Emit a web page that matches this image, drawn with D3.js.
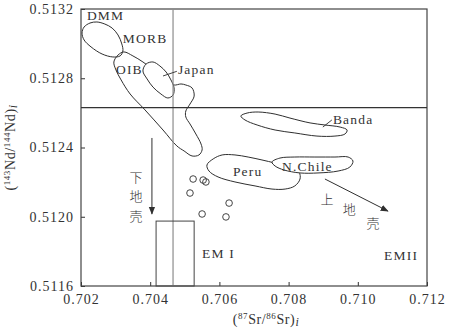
<!DOCTYPE html>
<html>
<head>
<meta charset="utf-8">
<script src="https://cdn.jsdelivr.net/npm/d3@7"></script>
<style>
  body { margin: 0; background: #fff; }
  text { font-family: "Liberation Serif", "Times New Roman", serif; fill: #333; }
  .cjk { font-family: "Noto Sans CJK SC", sans-serif; }
</style>
</head>
<body>
<svg id="chart" width="454" height="330"></svg>
<script>
const SVG_WIDTH = 454;
const SVG_HEIGHT = 330;
const MARGIN = { left: 81, right: 27, top: 9, bottom: 44 };

// axes
const X_DOMAIN = [0.702, 0.712];
const Y_DOMAIN = [0.5116, 0.5132];
const X_TICKS = [0.702, 0.704, 0.706, 0.708, 0.71, 0.712];
const Y_TICKS = [0.5116, 0.512, 0.5124, 0.5128, 0.5132];

// reference lines (Sr, Nd of bulk earth)
const REF_SR = 0.70466;
const REF_ND = 0.51263;

// field outlines, [87Sr/86Sr, 143Nd/144Nd]
const DMM = [[0.70203, 0.513061], [0.70209, 0.513096], [0.70226, 0.513119], [0.70246, 0.513125],
  [0.70269, 0.513113], [0.7029, 0.51309], [0.70307, 0.51305], [0.70318, 0.512998],
  [0.70321, 0.512957], [0.70313, 0.512929], [0.70292, 0.512923], [0.70261, 0.51294],
  [0.70229, 0.512981], [0.70209, 0.513021]];
const OIB_ARC = [[0.70295, 0.512894], [0.70307, 0.512934], [0.70324, 0.512952], [0.7035, 0.512929],
  [0.70379, 0.512894], [0.70417, 0.512836], [0.70451, 0.512784], [0.70469, 0.512761],
  [0.70489, 0.512767], [0.70503, 0.512761], [0.70521, 0.512744], [0.70527, 0.512697],
  [0.70515, 0.512651], [0.70503, 0.512611], [0.70503, 0.512576], [0.70515, 0.512536],
  [0.70532, 0.512478], [0.70547, 0.51242], [0.7055, 0.512386], [0.70541, 0.512357],
  [0.70521, 0.512351], [0.70498, 0.51238], [0.70477, 0.512409], [0.70437, 0.512501],
  [0.70385, 0.512617], [0.70342, 0.512709], [0.70316, 0.51279], [0.70301, 0.512848]];
const JAPAN = [[0.70388, 0.512882], [0.70408, 0.512894], [0.70428, 0.512871], [0.70446, 0.512836],
  [0.7046, 0.51279], [0.70469, 0.512744], [0.70466, 0.512703], [0.70451, 0.512686],
  [0.70431, 0.512709], [0.70408, 0.512749], [0.70391, 0.512796], [0.70379, 0.512842]];
const BANDA = [[0.70662, 0.512582], [0.7068, 0.512599], [0.70712, 0.512605], [0.70761, 0.512593],
  [0.70804, 0.51257], [0.70862, 0.512542], [0.70905, 0.51253], [0.70949, 0.512518],
  [0.70969, 0.512501], [0.70963, 0.512478], [0.70934, 0.512466], [0.70882, 0.512466],
  [0.70818, 0.512484], [0.70761, 0.512501], [0.70709, 0.51253], [0.70674, 0.512559]];
const PERU = [[0.70564, 0.512299], [0.70582, 0.512334], [0.70608, 0.512357], [0.70645, 0.512357],
  [0.70683, 0.512345], [0.70723, 0.512328], [0.70761, 0.51231], [0.70804, 0.512287],
  [0.7083, 0.512258], [0.70833, 0.512218], [0.70818, 0.512178], [0.7079, 0.51216],
  [0.70752, 0.51216], [0.70703, 0.512178], [0.70645, 0.512201], [0.70596, 0.51223],
  [0.7057, 0.512264]];
const N_CHILE = [[0.70752, 0.512316], [0.70775, 0.512339], [0.70818, 0.512345], [0.70876, 0.512345],
  [0.70934, 0.512345], [0.70972, 0.512345], [0.70986, 0.512322], [0.70977, 0.512287],
  [0.70943, 0.512264], [0.70885, 0.512253], [0.70833, 0.512253], [0.70787, 0.51227],
  [0.70761, 0.512293]];

// EM I box: [sr0, sr1, ndTop]
const EM1_BOX = [0.70417, 0.70527, 0.511975];

// samples
const SAMPLE_SR = [0.70524, 0.70553, 0.70561, 0.70515, 0.70628, 0.7055, 0.70619];
const SAMPLE_ND = [0.512218, 0.512212, 0.512201, 0.512137, 0.512079, 0.512016, 0.511999];

// trend arrows [[sr0, nd0], [sr1, nd1]]
const ARROW_LOWER = [[0.70405, 0.512455], [0.70405, 0.512016]];
const ARROW_UPPER = [[0.70905, 0.512218], [0.71087, 0.512033]];

// leader lines
const LEADERS = [
  [[0.70437, 0.512813], [0.70477, 0.51284]],
  [[0.70899, 0.512518], [0.70925, 0.512559]]
];

const FIELD_LABELS = [
  { text: "DMM", sr: 0.70217, nd: 0.513136 },
  { text: "MORB", sr: 0.70321, nd: 0.513004 },
  { text: "OIB", sr: 0.70301, nd: 0.512825 },
  { text: "Japan", sr: 0.7048, nd: 0.512825 },
  { text: "Banda", sr: 0.70928, nd: 0.512536 },
  { text: "Peru", sr: 0.70639, nd: 0.512235 },
  { text: "N.Chile", sr: 0.70781, nd: 0.512264 },
  { text: "EM I", sr: 0.7055, nd: 0.511762 },
  { text: "EMII", sr: 0.71076, nd: 0.51175 }
];

const CJK_LABELS = [
  { text: "下", sr: 0.70359, nd: 0.51223 },
  { text: "地", sr: 0.70359, nd: 0.51212 },
  { text: "壳", sr: 0.70359, nd: 0.51201 },
  { text: "上", sr: 0.70911, nd: 0.512108 },
  { text: "地", sr: 0.70975, nd: 0.512045 },
  { text: "壳", sr: 0.71044, nd: 0.511964 }
];

const svg = d3.select("#chart");

const x = d3.scaleLinear().domain(X_DOMAIN).range([MARGIN.left, SVG_WIDTH - MARGIN.right]);
const y = d3.scaleLinear().domain(Y_DOMAIN).range([SVG_HEIGHT - MARGIN.bottom, MARGIN.top]);

const INK = "#2f2f2f";

svg.append("defs").append("marker")
  .attr("id", "head")
  .attr("viewBox", "0 0 10 10")
  .attr("refX", 9).attr("refY", 5)
  .attr("markerWidth", 8).attr("markerHeight", 8)
  .attr("markerUnits", "userSpaceOnUse")
  .attr("orient", "auto")
  .append("path")
  .attr("d", "M0,1 L10,5 L0,9 Z")
  .attr("fill", INK);

// axes
const xAxis = d3.axisBottom(x).tickValues(X_TICKS).tickFormat(d3.format(".3f"))
  .tickSizeInner(-4).tickSizeOuter(0).tickPadding(8);
const yAxis = d3.axisLeft(y).tickValues(Y_TICKS).tickFormat(d3.format(".4f"))
  .tickSizeInner(-4).tickSizeOuter(0).tickPadding(7);

const gx = svg.append("g").attr("transform", `translate(0, ${SVG_HEIGHT - MARGIN.bottom})`).call(xAxis);
const gy = svg.append("g").attr("transform", `translate(${MARGIN.left}, 0)`).call(yAxis);
[gx, gy].forEach((g) => {
  g.select(".domain").remove();
  g.selectAll(".tick line").attr("stroke", INK);
  g.selectAll(".tick text")
    .style("font-family", "Liberation Serif")
    .style("font-size", "14px")
    .style("letter-spacing", "1px")
    .attr("fill", "#333");
});

// frame
svg.append("rect")
  .attr("x", x(X_DOMAIN[0])).attr("y", y(Y_DOMAIN[1]))
  .attr("width", x(X_DOMAIN[1]) - x(X_DOMAIN[0]))
  .attr("height", y(Y_DOMAIN[0]) - y(Y_DOMAIN[1]))
  .attr("fill", "none").attr("stroke", "#444").attr("stroke-width", 1.2);

// fields
const outline = d3.line()
  .x((d) => x(d[0]))
  .y((d) => y(d[1]))
  .curve(d3.curveCatmullRomClosed.alpha(0.5));

const fields = [
  { pts: DMM, fill: "none" },
  { pts: OIB_ARC, fill: "none" },
  { pts: JAPAN, fill: "#fff" },
  { pts: BANDA, fill: "none" },
  { pts: PERU, fill: "none" },
  { pts: N_CHILE, fill: "#fff" }
];
svg.append("g").selectAll("path")
  .data(fields)
  .join("path")
  .attr("d", (d) => outline(d.pts))
  .attr("fill", (d) => d.fill)
  .attr("stroke", INK)
  .attr("stroke-width", 1);

// bulk earth lines
svg.append("line")
  .attr("x1", x(REF_SR)).attr("x2", x(REF_SR))
  .attr("y1", y(Y_DOMAIN[0])).attr("y2", y(Y_DOMAIN[1]))
  .attr("stroke", "#8c8c8c").attr("stroke-width", 1.2);
svg.append("line")
  .attr("x1", x(X_DOMAIN[0])).attr("x2", x(X_DOMAIN[1]))
  .attr("y1", y(REF_ND)).attr("y2", y(REF_ND))
  .attr("stroke", "#333").attr("stroke-width", 1.2);

// EM I box
svg.append("rect")
  .attr("x", x(EM1_BOX[0])).attr("y", y(EM1_BOX[2]))
  .attr("width", x(EM1_BOX[1]) - x(EM1_BOX[0]))
  .attr("height", y(Y_DOMAIN[0]) - y(EM1_BOX[2]))
  .attr("fill", "none").attr("stroke", "#444").attr("stroke-width", 1);

// leaders
svg.append("g").selectAll("line")
  .data(LEADERS)
  .join("line")
  .attr("x1", (d) => x(d[0][0])).attr("y1", (d) => y(d[0][1]))
  .attr("x2", (d) => x(d[1][0])).attr("y2", (d) => y(d[1][1]))
  .attr("stroke", INK).attr("stroke-width", 0.9);

// arrows
svg.append("g").selectAll("line")
  .data([ARROW_LOWER, ARROW_UPPER])
  .join("line")
  .attr("x1", (d) => x(d[0][0])).attr("y1", (d) => y(d[0][1]))
  .attr("x2", (d) => x(d[1][0])).attr("y2", (d) => y(d[1][1]))
  .attr("stroke", INK).attr("stroke-width", 1)
  .attr("marker-end", "url(#head)");

// samples
svg.append("g").selectAll("circle")
  .data(SAMPLE_SR.map((sr, i) => [sr, SAMPLE_ND[i]]))
  .join("circle")
  .attr("cx", (d) => x(d[0]))
  .attr("cy", (d) => y(d[1]))
  .attr("r", 3.3)
  .attr("fill", "none")
  .attr("stroke", INK)
  .attr("stroke-width", 0.9);

// labels
svg.append("g").selectAll("text")
  .data(FIELD_LABELS)
  .join("text")
  .attr("x", (d) => x(d.sr))
  .attr("y", (d) => y(d.nd))
  .style("font-size", "13.5px")
  .style("letter-spacing", "1.2px")
  .text((d) => d.text);

svg.append("g").selectAll("text")
  .data(CJK_LABELS)
  .join("text")
  .attr("class", "cjk")
  .attr("x", (d) => x(d.sr))
  .attr("y", (d) => y(d.nd))
  .attr("text-anchor", "middle")
  .attr("dominant-baseline", "central")
  .style("font-size", "13px")
  .style("font-weight", 300)
  .attr("fill", "#333")
  .text((d) => d.text);

// axis titles
const xTitle = svg.append("text")
  .attr("x", (x(X_DOMAIN[0]) + x(X_DOMAIN[1])) / 2 + 12)
  .attr("y", SVG_HEIGHT - 6)
  .attr("text-anchor", "middle")
  .style("font-size", "14px")
  .style("letter-spacing", "0.6px");
xTitle.append("tspan").text("(");
xTitle.append("tspan").attr("dy", -5).style("font-size", "9px").text("87");
xTitle.append("tspan").attr("dy", 5).text("Sr/");
xTitle.append("tspan").attr("dy", -5).style("font-size", "9px").text("86");
xTitle.append("tspan").attr("dy", 5).text("Sr)");
xTitle.append("tspan").attr("dy", 2).style("font-style", "italic").style("font-size", "12px").text("i");

const yTitle = svg.append("text")
  .attr("transform", `translate(15, ${(y(Y_DOMAIN[0]) + y(Y_DOMAIN[1])) / 2}) rotate(-90)`)
  .attr("text-anchor", "middle")
  .style("font-size", "14px")
  .style("letter-spacing", "0.6px");
yTitle.append("tspan").text("(");
yTitle.append("tspan").attr("dy", -5).style("font-size", "9px").text("143");
yTitle.append("tspan").attr("dy", 5).text("Nd/");
yTitle.append("tspan").attr("dy", -5).style("font-size", "9px").text("144");
yTitle.append("tspan").attr("dy", 5).text("Nd)");
yTitle.append("tspan").attr("dy", 2).style("font-style", "italic").style("font-size", "12px").text("i");
</script>
</body>
</html>
